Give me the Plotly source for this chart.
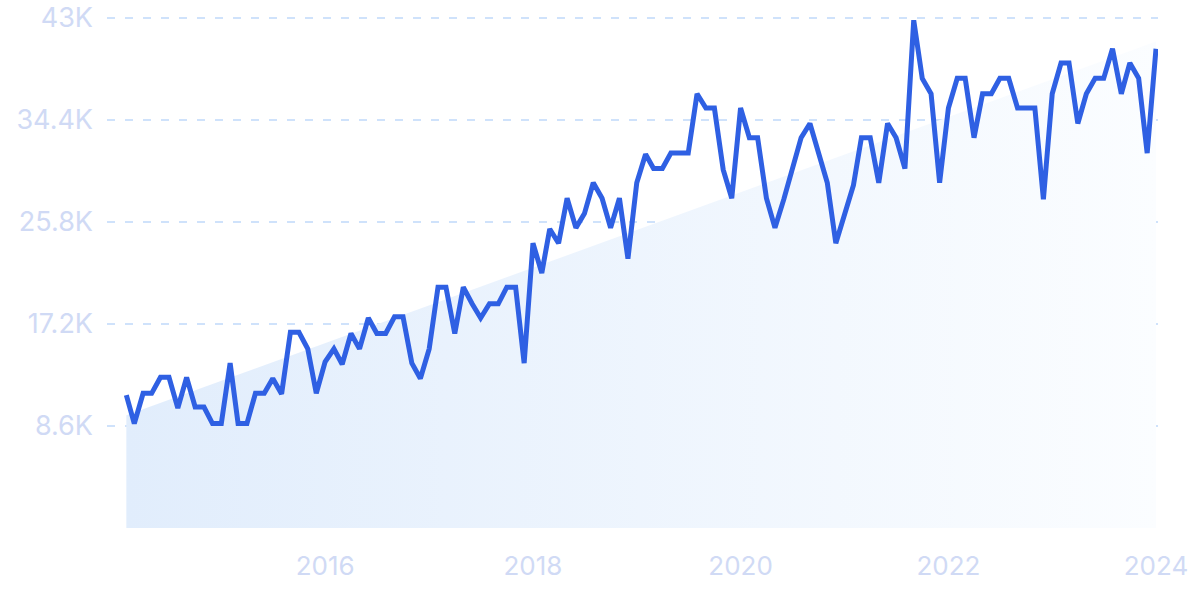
import pandas as pd
import plotly.graph_objects as go

start_month = "2014-02-01"
values_k = [
    11.2, 8.8, 11.35, 11.35, 12.7, 12.7, 10.1, 12.7, 10.2, 10.2, 8.8, 8.8,
    13.9, 8.8, 8.8, 11.35, 11.35, 12.6, 11.3, 16.5, 16.5, 15.1, 11.35, 14.0,
    15.1, 13.8, 16.4, 15.1, 17.7, 16.4, 16.4, 17.8, 17.8, 13.9, 12.6, 15.1,
    20.3, 20.3, 16.4, 20.3, 18.9, 17.7, 18.9, 18.9, 20.3, 20.3, 13.9, 24.0,
    21.5, 25.2, 24.0, 27.8, 25.3, 26.5, 29.1, 27.8, 25.3, 27.8, 22.7, 29.1,
    31.5, 30.3, 30.3, 31.6, 31.6, 31.6, 36.6, 35.4, 35.4, 30.2, 27.8, 35.4,
    32.9, 32.9, 27.8, 25.3, 27.7, 30.3, 32.9, 34.1, 31.6, 29.1, 24.0, 26.5,
    28.9, 32.9, 32.9, 29.1, 34.1, 32.9, 30.3, 42.8, 37.9, 36.6, 29.1, 35.4,
    37.9, 37.9, 32.9, 36.6, 36.6, 37.9, 37.9, 35.4, 35.4, 35.4, 27.7, 36.6,
    39.2, 39.2, 34.1, 36.6, 37.9, 37.9, 40.4, 36.6, 39.2, 37.9, 31.6, 40.4,
]
trend_k = [9.5, 41.0]  # trend value at first and last month
y_tick_vals = [8600, 17200, 25800, 34400, 43000]
y_tick_text = ["8.6K", "17.2K", "25.8K", "34.4K", "43K"]
x_tick_vals = ["2016-01-01", "2018-01-01", "2020-01-01", "2022-01-01", "2024-01-01"]
x_tick_text = ["2016", "2018", "2020", "2022", "2024"]

dates = pd.date_range(start_month, periods=len(values_k), freq="MS")
values = [v * 1000 for v in values_k]
trend = [v * 1000 for v in trend_k]

label_color = "#d0daf5"
fig = go.Figure()
fig.add_trace(go.Scatter(
    x=[dates[0], dates[-1]], y=trend, mode="lines",
    line=dict(width=0), fill="tozeroy",
    fillgradient=dict(type="horizontal",
                      colorscale=[[0, "#e1edfc"], [1, "#fbfdff"]]),
    hoverinfo="skip", showlegend=False,
))
fig.add_trace(go.Scatter(
    x=dates, y=values, mode="lines",
    line=dict(color="#2f60e3", width=5, shape="linear"),
    showlegend=False,
))
fig.update_layout(
    width=1200, height=600,
    margin=dict(l=107, r=42, t=6, b=72),
    paper_bgcolor="white", plot_bgcolor="white",
    font=dict(family="Inter", size=26, color=label_color),
)
fig.update_xaxes(
    type="date", range=["2013-11-25", "2024-01-08"],
    tickvals=x_tick_vals, ticktext=x_tick_text,
    showgrid=False, zeroline=False, showline=False, ticks="",
    ticklabelstandoff=20, ticklabeloverflow="allow", automargin=False,
    tickfont=dict(size=26, color=label_color),
)
fig.update_yaxes(
    range=[0, 44000], tickvals=y_tick_vals, ticktext=y_tick_text,
    showgrid=True, gridcolor="#cfe2fb", griddash="8px,10px", gridwidth=1.5,
    zeroline=False, showline=False, ticks="", ticklabelstandoff=13,
    ticklabeloverflow="allow", automargin=False,
    tickfont=dict(size=27, color=label_color),
)
fig.write_html(
    "out.html",
    config={"displayModeBar": False},
    post_script="document.body.style.margin='0';",
)
